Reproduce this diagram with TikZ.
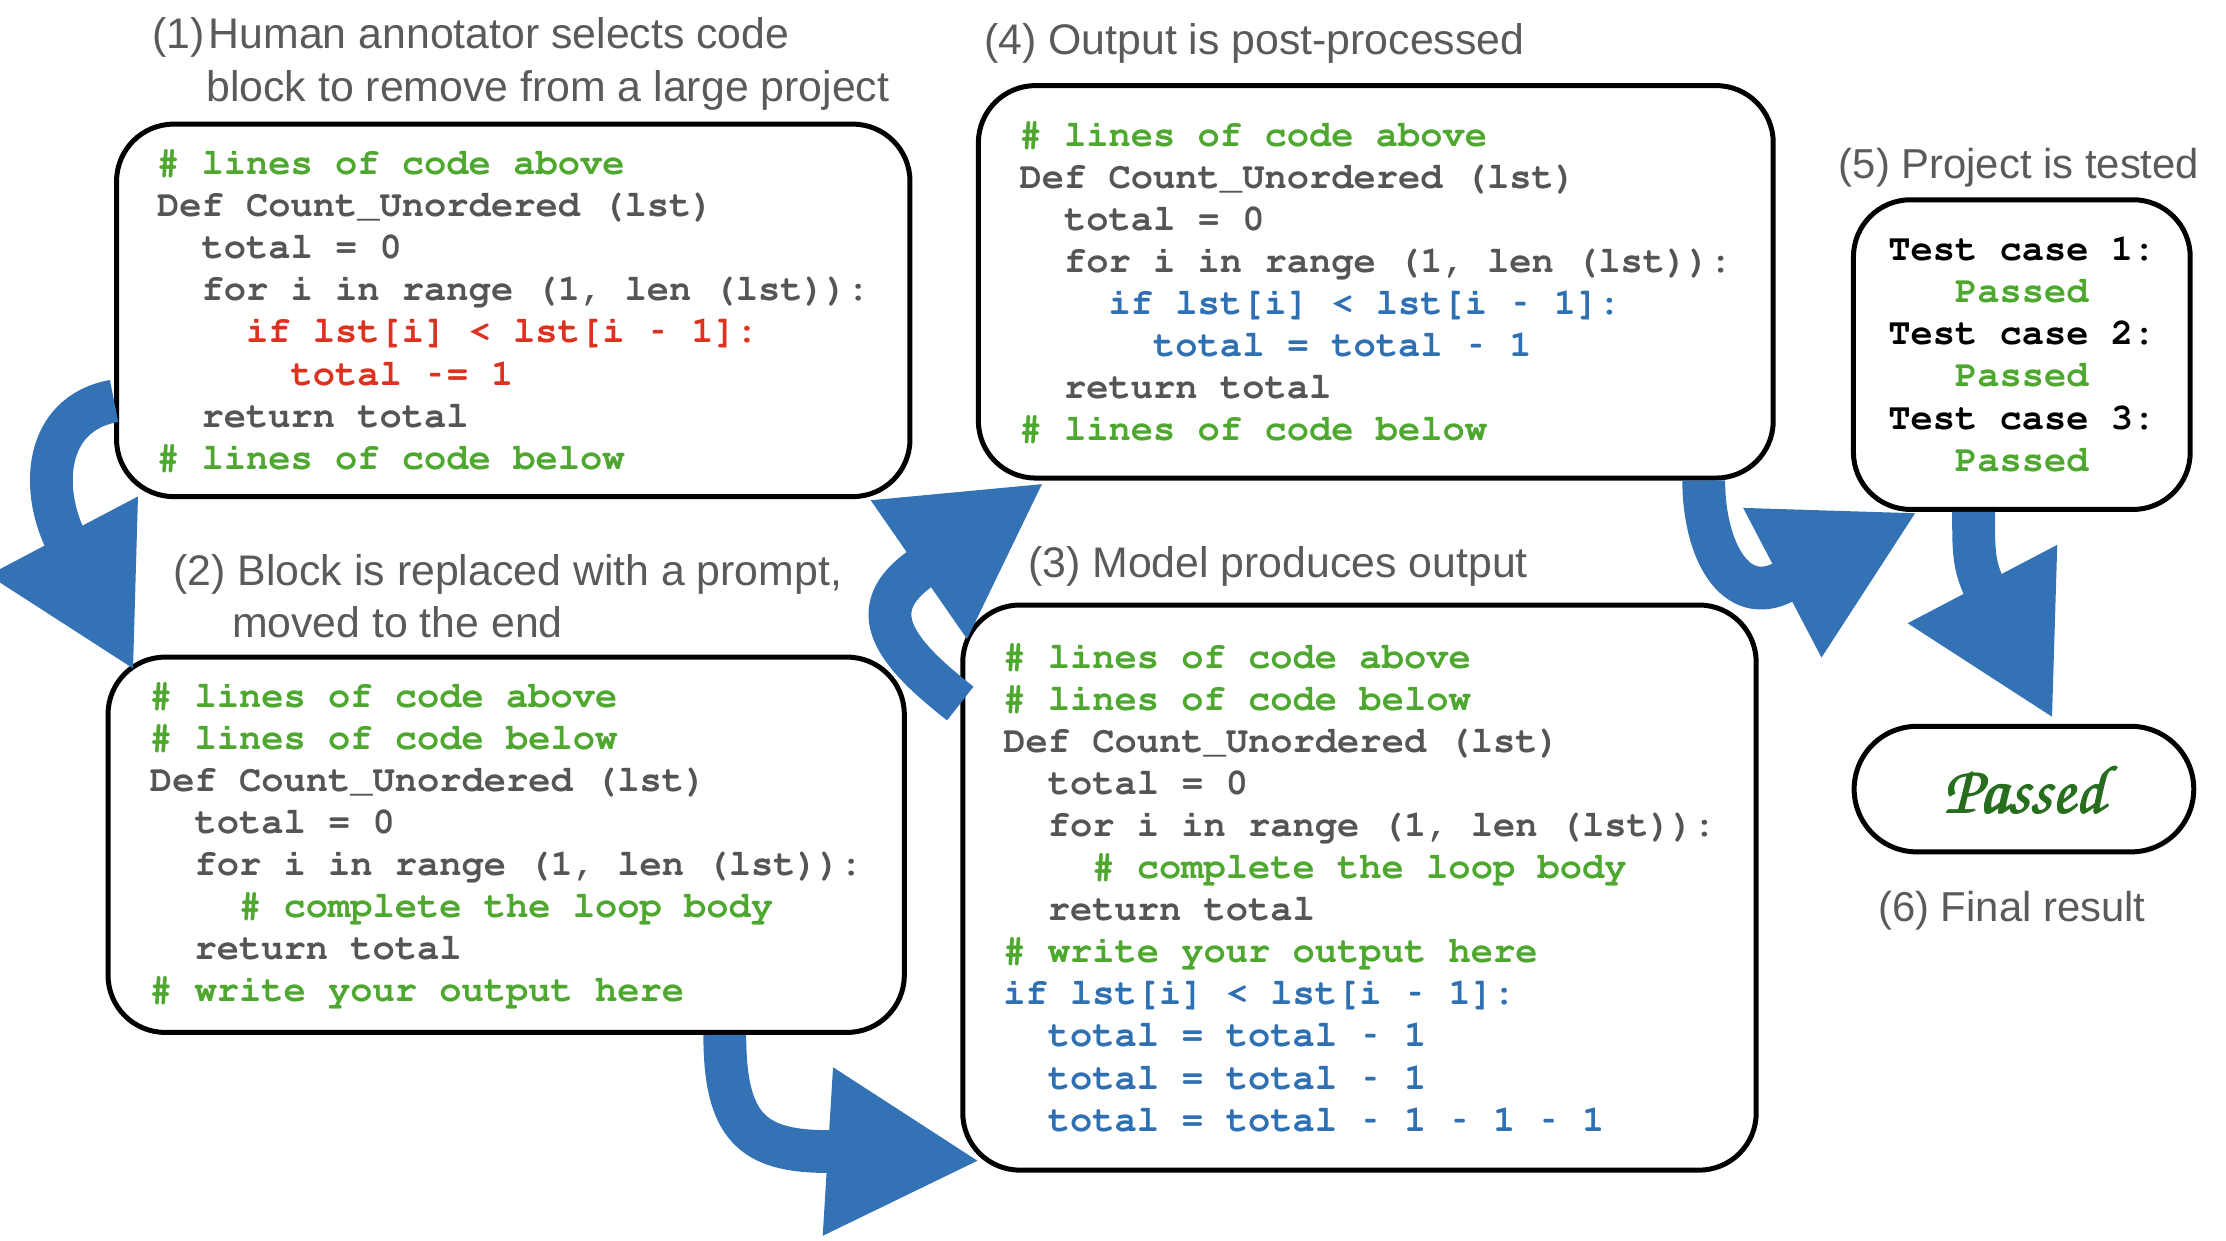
\documentclass[tikz,border=0pt]{standalone}
\usepackage[T1]{fontenc}
\usepackage{fontspec}
\setmainfont{Liberation Sans}
\usetikzlibrary{arrows.meta}
\definecolor{arrowblue}{RGB}{51,114,180}
\definecolor{codegreen}{RGB}{78,167,46}
\definecolor{codered}{RGB}{220,50,32}
\definecolor{codeblue}{RGB}{46,112,178}
\definecolor{codegray}{RGB}{85,85,85}
\definecolor{titlegray}{RGB}{90,90,90}
\definecolor{passgreen}{RGB}{38,110,30}
\newcommand{\codefont}{\fontencoding{T1}\fontfamily{pcr}\fontseries{b}\fontshape{n}\fontsize{26}{29.5}\selectfont}
\newcommand{\lvl}[1]{\hspace*{#1\fontcharwd\font`M}}
\newcommand{\mn}{\makebox[\fontcharwd\font`M]{\scalebox{0.55}[1]{-}}}
\newcommand{\cmt}[1]{\textcolor{codegreen}{#1}}
\newcommand{\red}[1]{\textcolor{codered}{#1}}
\newcommand{\blu}[1]{\textcolor{codeblue}{#1}}
\newcommand{\heavy}[1]{\makebox[0pt][l]{\hspace{0.9pt}#1}\makebox[0pt][l]{\raisebox{0.7pt}{#1}}#1}
\begin{document}
\begin{tikzpicture}[x=0.995pt,y=-1pt,
	codebox/.style={draw, line width=3.5pt, rounded corners=40pt, inner sep=0pt, align=left, text=codegray, font=\codefont},
	steplabel/.style={anchor=base west, inner sep=0pt, text=titlegray, font=\fontsize{30}{37}\selectfont},
	flow/.style={draw=arrowblue, line width=30pt, -{Triangle[length=107pt,width=110pt]}}]
	\useasboundingbox (0,0) rectangle (1567.8,869);
	% step 1
	\node[steplabel] (lab1) at (107,34) {\begin{tabular}[t]{@{}l@{}}(1)\hspace{3pt}Human annotator selects code\\\hspace*{38pt}block to remove from a large project\end{tabular}};
	\node[codebox, minimum width=556, minimum height=261] (code1) at (361.5,217.5) {\cmt{\# lines of code above}\\
		Def Count\_Unordered (lst)\\
		\lvl{2}total = 0\\
		\lvl{2}for i in range (1, len (lst)):\\
		\lvl{4}\red{if lst[i] < lst[i \mn{} 1]:}\\
		\lvl{6}\red{total \mn= 1}\\
		\lvl{2}return total\\
		\cmt{\# lines of code below}};
	% step 2
	\node[steplabel] (lab2) at (122,410) {\begin{tabular}[t]{@{}l@{}}(2) Block is replaced with a prompt,\\\hspace*{41pt}moved to the end\end{tabular}};
	\node[codebox, minimum width=558, minimum height=263] (code2) at (356.5,592) {\cmt{\# lines of code above}\\
		\cmt{\# lines of code below}\\
		Def Count\_Unordered (lst)\\
		\lvl{2}total = 0\\
		\lvl{2}for i in range (1, len (lst)):\\
		\lvl{4}\cmt{\# complete the loop body}\\
		\lvl{2}return total\\
		\cmt{\# write your output here}};
	% step 3
	\node[steplabel] (lab3) at (724,405) {(3) Model produces output};
	\node[codebox, minimum width=556, minimum height=396] (code3) at (957.5,622) {\cmt{\# lines of code above}\\
		\cmt{\# lines of code below}\\
		Def Count\_Unordered (lst)\\
		\lvl{2}total = 0\\
		\lvl{2}for i in range (1, len (lst)):\\
		\lvl{4}\cmt{\# complete the loop body}\\
		\lvl{2}return total\\
		\cmt{\# write your output here}\\
		\blu{if lst[i] < lst[i \mn{} 1]:}\\
		\lvl{2}\blu{total = total \mn{} 1}\\
		\lvl{2}\blu{total = total \mn{} 1}\\
		\lvl{2}\blu{total = total \mn{} 1 \mn{} 1 \mn{} 1}};
	% step 4
	\node[steplabel] (lab4) at (693,38) {(4) Output is post-processed};
	\node[codebox, minimum width=557, minimum height=275] (code4) at (969,197.5) {\cmt{\# lines of code above}\\
		Def Count\_Unordered (lst)\\
		\lvl{2}total = 0\\
		\lvl{2}for i in range (1, len (lst)):\\
		\lvl{4}\blu{if lst[i] < lst[i \mn{} 1]:}\\
		\lvl{6}\blu{total = total \mn{} 1}\\
		\lvl{2}return total\\
		\cmt{\# lines of code below}};
	% step 5
	\node[steplabel, font=\fontsize{29.3}{37}\selectfont] (lab5) at (1295,125) {(5) Project is tested};
	\node[codebox, text=black, minimum width=236, minimum height=217] (tests) at (1424,248.5) {Test case 1:\\
		\lvl{3}\cmt{Passed}\\
		Test case 2:\\
		\lvl{3}\cmt{Passed}\\
		Test case 3:\\
		\lvl{3}\cmt{Passed}};
	% step 6
	\node[codebox, rounded corners=44pt, text=passgreen, minimum width=238, minimum height=88, font=\fontsize{48}{48}\fontencoding{T1}\fontfamily{pzc}\fontseries{mb}\fontshape{it}\selectfont] (result) at (1425.5,553) {\heavy{Passed}};
	\node[steplabel, anchor=base, font=\fontsize{29.3}{37}\selectfont] (lab6) at (1417,646) {(6) Final result};
	% arrows
	\draw[flow] ([yshift=-63.5pt]code1.west) .. controls (30,290) and (28,345) .. (48,382) -- ([xshift=20.2pt,yshift=-11.4pt]code2.north west);
	\draw[flow] ([xshift=153.2pt]code2.south) .. controls (510.5,790) and (530,807) .. (583.4,807) -- ([xshift=14pt,yshift=8.2pt]code3.south west);
	\draw[flow] ([yshift=129pt]code3.west) .. controls (630,457) and (607,427.5) .. (648.3,398.4) -- ([xshift=47.9pt,yshift=-1.4pt]code4.south west);
	\draw[flow] ([xshift=229.8pt]code4.south) .. controls (1200,385) and (1221.8,426.3) .. (1257,407.5) -- ([xshift=46.7pt]tests.south west);
	\draw[flow] ([xshift=-33.8pt]tests.south) .. controls (1390,385) and (1390,395) .. (1396.9,410.5) -- ([xshift=20.6pt,yshift=3.2pt]result.north);
\end{tikzpicture}
\end{document}
